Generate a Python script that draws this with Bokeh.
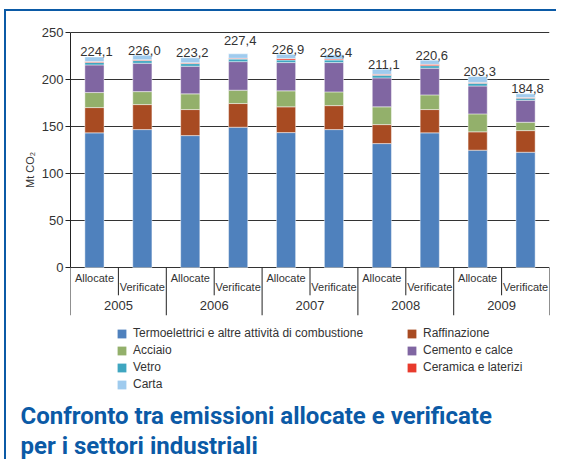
from bokeh.plotting import figure
from bokeh.layouts import column
from bokeh.models import (ColumnDataSource, FixedTicker, Legend, LegendItem, Range1d, Title)
from bokeh.core.properties import value
from bokeh.embed import file_html
from bokeh.resources import INLINE

# ---------------- data ----------------
years = ["2005", "2006", "2007", "2008", "2009"]
kinds = ["Allocate", "Verificate"]
totals = [224.1, 226.0, 223.2, 227.4, 226.9, 226.4, 211.1, 220.6, 203.3, 184.8]

termo = [143.3, 146.8, 140.4, 149.3, 143.6, 146.8, 131.9, 143.3, 124.9, 122.7]
raffinazione = [26.9, 26.6, 27.7, 25.2, 27.4, 25.5, 20.2, 24.8, 19.5, 23.0]
acciaio = [16.0, 13.8, 16.7, 14.2, 17.0, 14.6, 18.9, 15.6, 19.1, 8.9]
cemento = [29.4, 30.2, 29.4, 30.4, 30.1, 31.2, 30.8, 28.4, 29.7, 23.4]
vetro = [2.7, 2.8, 2.8, 2.7, 2.7, 2.7, 2.8, 2.7, 2.8, 2.2]
ceramica = [1.0, 1.0, 1.0, 0.9, 1.6, 1.0, 1.0, 1.4, 1.0, 0.8]
carta = [4.8, 4.8, 5.2, 4.7, 4.5, 4.6, 5.5, 4.4, 6.3, 3.8]

series_names = ["Termoelettrici e altre attività di combustione", "Raffinazione", "Acciaio",
                "Cemento e calce", "Vetro", "Ceramica e laterizi", "Carta"]
y_ticks = [0, 50, 100, 150, 200, 250]
title_lines = ["Confronto  tra emissioni allocate e verificate", "per i settori industriali"]

# ---------------- styling ----------------
colors = ["#4f81bd", "#a84b22", "#93b06b", "#8066a2", "#3fa6c0", "#e83a2c", "#9fcbee"]
FONT = "Liberation Sans"
TXT = "#333333"
BLUE = "#0b5aa6"

cats = [(y, k) for y in years for k in kinds]
xs = [i + 0.5 for i in range(len(cats))]
keys = ["termo", "raff", "acc", "cem", "vetro", "cer", "carta"]
src = ColumnDataSource(dict(x=xs, termo=termo, raff=raffinazione, acc=acciaio, cem=cemento,
                            vetro=vetro, cer=ceramica, carta=carta))

# ================= chart =================
p1 = figure(frame_width=479, frame_height=291, x_range=Range1d(0, len(cats)),
            y_range=Range1d(-51, 258.6), output_backend="svg", toolbar_location=None,
            x_axis_location=None, min_border_left=64, min_border_right=7,
            min_border_top=13, min_border_bottom=2)
p1.outline_line_color = None
p1.background_fill_color = "white"
p1.border_fill_color = "white"

renderers = p1.vbar_stack(keys, x="x", width=0.4, source=src, color=colors,
                          line_color="white", line_alpha=0.45, line_width=1)

ax = p1.yaxis[0]
ax.ticker = FixedTicker(ticks=y_ticks)
ax.bounds = (0, 250)
ax.major_tick_out = 5
ax.major_tick_in = 0
ax.minor_tick_out = 0
ax.minor_tick_in = 0
ax.major_label_standoff = 2
ax.major_label_text_font = FONT
ax.major_label_text_font_size = "13px"
ax.major_label_text_color = TXT
ax.axis_line_color = "#222222"
ax.major_tick_line_color = "#222222"
ax.axis_label = "Mt CO₂"
ax.axis_label_standoff = 3
ax.axis_label_text_font = FONT
ax.axis_label_text_font_size = "11px"
ax.axis_label_text_font_style = "normal"
ax.axis_label_text_color = TXT
p1.ygrid.grid_line_color = "#333333"
p1.ygrid.grid_line_width = 1
p1.xgrid.grid_line_color = None

# category separators below the axis
bounds_x = list(range(len(cats) + 1))
sep_len = [-51 if i % 2 == 0 else -29.5 for i in bounds_x]
p1.segment(x0=bounds_x, x1=bounds_x, y0=[0] * len(bounds_x), y1=sep_len,
           line_color="#222222", line_width=1)

# category labels
kind_y = {"Allocate": -10.6, "Verificate": -20.2}
p1.text(x=xs, y=[kind_y[k] for _, k in cats], text=[k for _, k in cats],
        text_align="center", text_baseline="middle", text_font=value(FONT),
        text_font_size="11px", text_color=TXT)
p1.text(x=[2 * i + 1 for i in range(len(years))], y=[-40.7] * len(years), text=years,
        text_align="center", text_baseline="middle", text_font=value(FONT),
        text_font_size="13px", text_color=TXT)

# totals above bars
lift = [0, 0, 0, 8, 0, -3, 0, 0, 0, 0]
lab_src = ColumnDataSource(dict(x=xs, y=totals,
                                t=[f"{v:.1f}".replace(".", ",") for v in totals],
                                yo=[-5 - l for l in lift]))
p1.text(x="x", y="y", text="t", source=lab_src, x_offset=2, y_offset="yo",
        text_align="center", text_baseline="alphabetic", text_font=value(FONT),
        text_font_size="13px", text_color=TXT)

# ================= legend + title panel =================
p2 = figure(frame_width=479, frame_height=82, x_range=Range1d(0, 1), y_range=Range1d(0, 1),
            output_backend="svg", toolbar_location=None, x_axis_location=None,
            y_axis_location=None, min_border_left=64, min_border_right=7,
            min_border_top=0, min_border_bottom=0)
p2.outline_line_color = None
p2.xgrid.visible = False
p2.ygrid.visible = False
p2.background_fill_color = "white"
p2.border_fill_color = "white"

# hidden copies of the series, used only as legend swatches
swatches = p2.vbar_stack(keys, x="x", width=0.4, source=src, color=colors,
                         line_color=None, visible=False)

def mk_legend(idx, loc):
    return Legend(items=[LegendItem(label=series_names[i], renderers=[swatches[i]]) for i in idx],
                  location=loc, orientation="vertical", glyph_width=11, glyph_height=11,
                  label_height=14, spacing=3, padding=0, margin=0, label_standoff=6,
                  border_line_color=None, background_fill_alpha=0,
                  inactive_fill_alpha=0,
                  label_text_font=FONT, label_text_font_size="12px", label_text_color=TXT)

p2.add_layout(mk_legend([0, 2, 4, 6], (46, 8)))
p2.add_layout(mk_legend([1, 3, 5], (336, 25)))

for txt in title_lines:
    p2.add_layout(Title(text=txt, align="left", offset=-50, standoff=0,
                        text_font="Roboto", text_font_style="bold",
                        text_font_size="24px", text_color=BLUE), "below")

layout = column(p1, p2, spacing=0,
                styles={"border-top": f"2px solid {BLUE}", "border-left": f"2px solid {BLUE}",
                        "margin-top": "9px", "margin-left": "4px"})

open("out.html", "w").write(file_html(layout, INLINE))
